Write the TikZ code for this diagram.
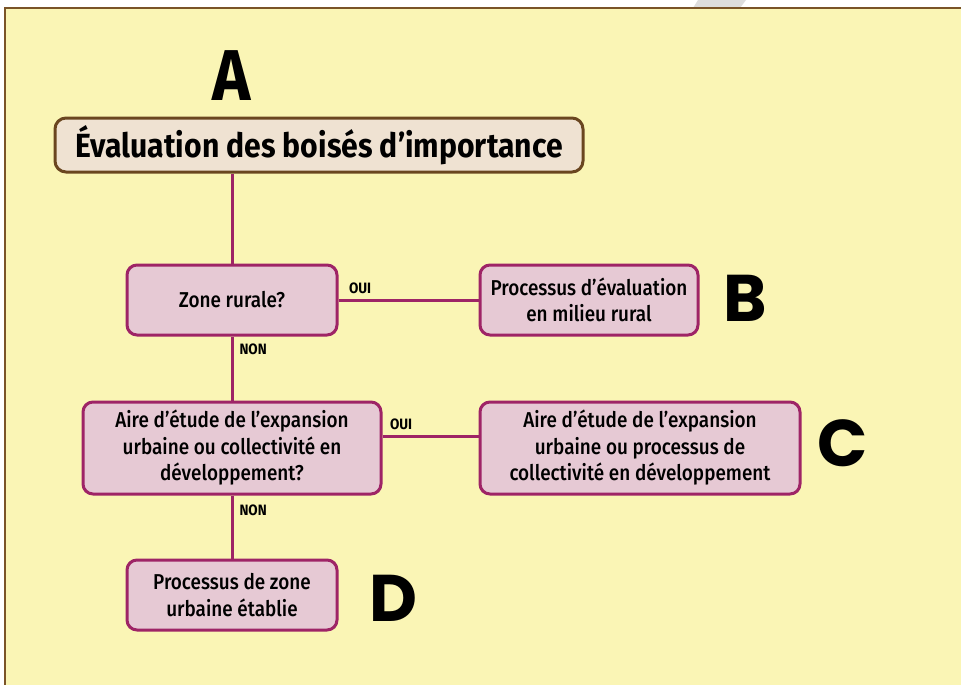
\documentclass[tikz,border=0pt]{standalone}
\usepackage{fontspec}
\setmainfont{Fira Sans}[FakeStretch=0.9]
\newfontfamily\boxfont{Fira Sans Medium}[FakeStretch=0.88]
\newfontfamily\letterfont{Poppins}
\usepackage{tikz}
\usetikzlibrary{positioning}

\definecolor{panelyellow}{HTML}{FAF5B5}
\definecolor{panelbrown}{HTML}{7A5428}
\definecolor{titlefill}{HTML}{EFE2D2}
\definecolor{titleedge}{HTML}{6A4620}
\definecolor{boxpink}{HTML}{E6C9D4}
\definecolor{boxedge}{HTML}{9E2466}
\definecolor{markgray}{HTML}{DDDDDD}

\tikzset{
    titlebox/.style={draw=titleedge, fill=titlefill, line width=3pt, rounded corners=11pt,
        minimum width=528pt, minimum height=54pt, inner sep=0pt,
        font=\fontsize{33.5}{36}\selectfont\bfseries},
    qbox/.style={draw=boxedge, fill=boxpink, line width=3pt, rounded corners=10pt,
        align=center, inner sep=0pt, font=\fontsize{21.5}{26.5}\selectfont\boxfont},
    link/.style={draw=boxedge, line width=3pt},
    yesno/.style={font=\fontsize{15}{17}\selectfont\bfseries, inner sep=0pt},
    bigletter/.style={font=\fontsize{66}{66}\selectfont\letterfont\bfseries},
}

\begin{document}
\begin{tikzpicture}[x=1pt, y=-1pt]
    \useasboundingbox (0, 0) rectangle (961, 685);
    % panel
    \fill [white] (0, 0) rectangle (961, 685);
    \fill [markgray] (698, 0) -- (746, 0) -- (740, 8) -- (693, 8) -- cycle;
    \fill [panelyellow] (5, 8) rectangle (975, 700);
    \draw [panelbrown, line width=2pt] (5, 700) -- (5, 8) -- (975, 8);

    % boxes
    \node [font=\fontsize{72}{72}\selectfont\bfseries] (lettera) at (232, 76) {A};
    \node [titlebox] (title) at (319, 145) {Évaluation des boisés d’importance};
    \node [qbox, minimum width=210pt, minimum height=70pt] (rural) at (232, 300) {Zone rurale?};
    \node [qbox, minimum width=218pt, minimum height=70pt] (ruralproc) at (589, 300)
        {Processus d’évaluation\\en milieu rural};
    \node [bigletter] (letterb) at (745, 298) {B};
    \node [qbox, minimum width=298pt, minimum height=92pt] (expansion) at (232, 448)
        {Aire d’étude de l’expansion\\urbaine ou collectivité en\\développement?};
    \node [qbox, minimum width=320pt, minimum height=92pt] (expproc) at (640, 448)
        {Aire d’étude de l’expansion\\urbaine ou processus de\\collectivité en développement};
    \node [bigletter] (letterc) at (843, 443) {C};
    \node [qbox, minimum width=210pt, minimum height=70pt] (urbproc) at (232, 595)
        {Processus de zone\\urbaine établie};
    \node [bigletter] (letterd) at (393, 598) {D};

    % connectors
    \draw [link] (title.south -| rural) -- (rural);
    \draw [link] (rural) -- node [yesno, pos=0, above right=5pt and 9pt] {OUI} (ruralproc);
    \draw [link] (rural) -- node [yesno, pos=0, below right=6pt and 6pt] {NON} (expansion);
    \draw [link] ([yshift=12pt]expansion.east)
        -- node [yesno, pos=0, above right=5pt and 6pt] {OUI} ([yshift=12pt]expproc.west);
    \draw [link] (expansion) -- node [yesno, pos=0, below right=8pt and 6pt] {NON} (urbproc);
\end{tikzpicture}
\end{document}
